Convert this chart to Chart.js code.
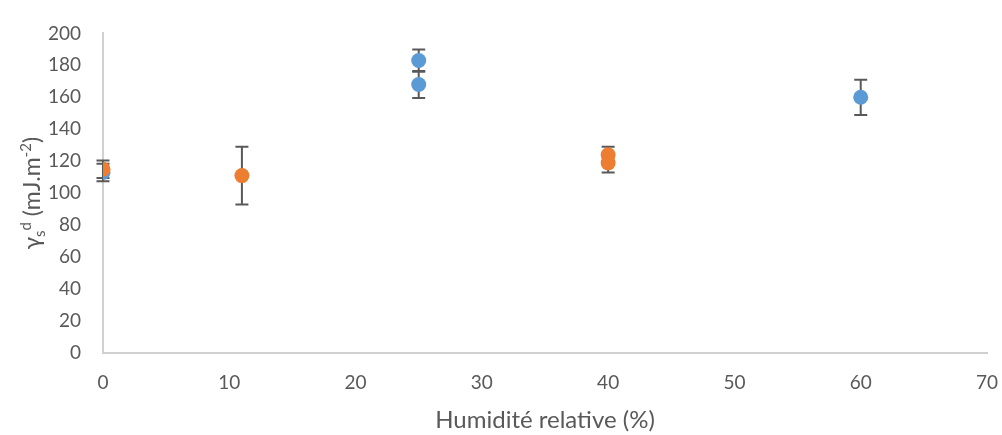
<!DOCTYPE html>
<html>
<head>
<meta charset="utf-8">
<script src="https://cdn.jsdelivr.net/npm/chart.js@4"></script>
<style>
html,body{margin:0;padding:0;background:#fff;}
#wrap{width:1002px;height:435px;}
</style>
</head>
<body>
<div id="wrap"><canvas id="c" width="1002" height="435"></canvas></div>
<script>
const orangeX = [0, 11, 40, 40];
const orangeY = [115, 111, 124, 119];
const orangeErr = [5.5, 18, 5, 6];
const blueX = [0, 25, 25, 60];
const blueY = [113, 183, 168, 160];
const blueErr = [5.5, 7, 8.5, 11];
const xTicks = [0, 10, 20, 30, 40, 50, 60, 70];
const yTicks = [0, 20, 40, 60, 80, 100, 120, 140, 160, 180, 200];
const xTitle = 'Humidité relative (%)';
const yTitleParts = [['γ', 'n'], ['s', 'sub'], ['d', 'sup'], [' (mJ.m', 'n'], ['-2', 'sup'], [')', 'n']];

const FONT = 'Lato, "Open Sans", sans-serif';
const TXT = '#595959';

function toPoints(xs, ys, es) {
  return xs.map((x, i) => ({x: x, y: ys[i], err: es[i]}));
}

const errorBars = {
  id: 'errorBars',
  beforeDatasetsDraw(chart) {
    const ctx = chart.ctx;
    const xs = chart.scales.x, ys = chart.scales.y;
    ctx.save();
    ctx.strokeStyle = '#595959';
    ctx.lineWidth = 2;
    chart.data.datasets.forEach(ds => {
      ds.data.forEach(p => {
        const px = xs.getPixelForValue(p.x);
        const t = ys.getPixelForValue(p.y + p.err);
        const b = ys.getPixelForValue(p.y - p.err);
        ctx.beginPath();
        ctx.moveTo(px, t); ctx.lineTo(px, b);
        ctx.moveTo(px - 6.5, t); ctx.lineTo(px + 6.5, t);
        ctx.moveTo(px - 6.5, b); ctx.lineTo(px + 6.5, b);
        ctx.stroke();
      });
    });
    ctx.restore();
  }
};

const yTitle = {
  id: 'yTitle',
  afterDraw(chart) {
    const ctx = chart.ctx;
    const area = chart.chartArea;
    const big = 23, small = 15;
    ctx.save();
    ctx.fillStyle = TXT;
    ctx.textBaseline = 'alphabetic';
    ctx.textAlign = 'left';
    let total = 0;
    const widths = yTitleParts.map(([t, k]) => {
      ctx.font = (k === 'n' ? big : small) + 'px ' + FONT;
      const w = ctx.measureText(t).width;
      total += w;
      return w;
    });
    const cy = (area.top + area.bottom) / 2;
    ctx.translate(40, cy);
    ctx.rotate(-Math.PI / 2);
    let x = -total / 2;
    yTitleParts.forEach(([t, k], i) => {
      ctx.font = (k === 'n' ? big : small) + 'px ' + FONT;
      const dy = k === 'sub' ? 5 : (k === 'sup' ? -9 : 0);
      ctx.fillText(t, x, dy);
      x += widths[i];
    });
    ctx.restore();
  }
};

new Chart(document.getElementById('c'), {
  type: 'scatter',
  data: {
    datasets: [
      {label: 'orange', data: toPoints(orangeX, orangeY, orangeErr), backgroundColor: '#ED7D31', borderColor: '#ED7D31', pointRadius: 7.5, pointHoverRadius: 7.5, borderWidth: 0},
      {label: 'blue', data: toPoints(blueX, blueY, blueErr), backgroundColor: '#5B9BD5', borderColor: '#5B9BD5', pointRadius: 7.5, pointHoverRadius: 7.5, borderWidth: 0}
    ]
  },
  options: {
    responsive: false,
    animation: false,
    events: [],
    layout: {padding: {top: 26, right: 0, left: 0, bottom: 0}},
    plugins: {legend: {display: false}, tooltip: {enabled: false}},
    scales: {
      x: {
        type: 'linear', min: 0, max: 70,
        afterBuildTicks: s => { s.ticks = xTicks.map(v => ({value: v})); },
        afterFit: s => { s.height = 82; s.paddingRight = 15; },
        grid: {display: true, drawOnChartArea: false, drawTicks: false, color: '#d9d9d9'},
        border: {display: true, color: '#d0d0d0', width: 2},
        ticks: {padding: 18, color: TXT, font: {family: FONT, size: 19}},
        title: {display: true, text: xTitle, color: TXT, font: {family: FONT, size: 24}, padding: {top: 6, bottom: 0}}
      },
      y: {
        type: 'linear', min: 0, max: 200,
        afterBuildTicks: s => { s.ticks = yTicks.map(v => ({value: v})); },
        afterFit: s => { s.width = 103; },
        grid: {display: true, drawOnChartArea: false, drawTicks: false, color: '#d9d9d9'},
        border: {display: true, color: '#d0d0d0', width: 2},
        ticks: {padding: 22, color: TXT, font: {family: FONT, size: 19}}
      }
    }
  },
  plugins: [errorBars, yTitle]
});
</script>
</body>
</html>
